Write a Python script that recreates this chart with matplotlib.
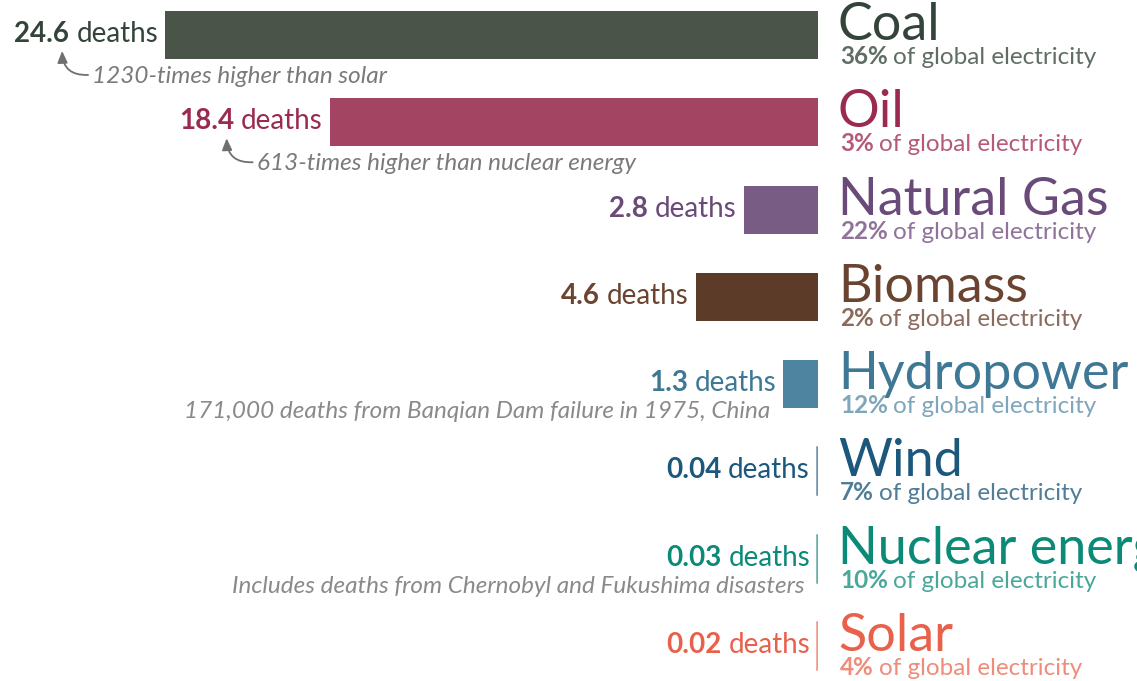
import matplotlib.pyplot as plt
from matplotlib.transforms import offset_copy

sources = ["Coal", "Oil", "Natural Gas", "Biomass", "Hydropower", "Wind", "Nuclear energy", "Solar"]
deaths = [24.6, 18.4, 2.8, 4.6, 1.3, 0.04, 0.03, 0.02]
share = [36, 3, 22, 2, 12, 7, 10, 4]

bar_colors = ["#4a5449", "#a34462", "#785c84", "#5c3b29", "#4e84a0", "#1c577c", "#0a8a78", "#e8614b"]
text_colors = ["#34443a", "#9a2a50", "#6a4a78", "#6a4431", "#3f7895", "#1c577c", "#0b8a78", "#e8614b"]
sub_colors = ["#5f6e63", "#b65a7a", "#8f7399", "#8b6b5e", "#7fa6bb", "#4f7d98", "#4aa89a", "#ef8c7a"]
line_colors = ["#4a5449", "#a34462", "#785c84", "#5c3b29", "#4e84a0", "#7b9db3", "#6fb8ad", "#f1a295"]

# arrow notes under the big bars
notes = {0: "1230-times higher than solar", 1: "613-times higher than nuclear energy"}
# footnotes under the death labels
footnotes = {4: "171,000 deaths from Banqian Dam failure in 1975, China",
             6: "Includes deaths from Chernobyl and Fukushima disasters"}

plt.rcParams['font.family'] = ['Lato', 'DejaVu Sans']

fig = plt.figure(figsize=(11.37, 6.81), dpi=100)
ax = fig.add_axes([0, 0, 1, 1])
ax.set_xlim(-30.82, 12.02)
ax.set_ylim(7.40, -0.40)
ax.axis('off')

rows = list(range(len(sources)))
ax.barh(rows, [-d for d in deaths], height=0.55, color=bar_colors)
# the tiny values are drawn as a hairline so they stay visible
for i in rows:
    if deaths[i] < 0.1:
        ax.plot([-deaths[i], -deaths[i]], [i - 0.275, i + 0.275], color=line_colors[i], lw=1.2)

grey = "#7a7a7a"
for i in rows:
    d = deaths[i]
    # "deaths" label, bold number to its left
    lab = ax.annotate("deaths", xy=(-d, i), xytext=(-7, 1), textcoords='offset pixels',
                      ha='right', va='center', fontsize=20, color=text_colors[i])
    ax.annotate(str(d), xy=(0, 0), xycoords=lab, xytext=(-7, 0), textcoords='offset pixels',
                ha='right', va='bottom', fontsize=20, fontweight='bold', color=text_colors[i])

    # source name and share of electricity
    ax.annotate(sources[i], xy=(0, i), xytext=(20, -5), textcoords='offset pixels',
                ha='left', va='baseline', fontsize=37.5, color=text_colors[i])
    pct = ax.annotate(f"{share[i]}%", xy=(0, i), xytext=(22, -29), textcoords='offset pixels',
                      ha='left', va='baseline', fontsize=17.5, fontweight='bold', color=sub_colors[i])
    ax.annotate("of global electricity", xy=(1, 0), xycoords=pct, xytext=(5, 0),
                textcoords='offset pixels', ha='left', va='bottom', fontsize=17.5, color=sub_colors[i])

    if i in notes:
        ax.annotate(notes[i], xy=(-d, i), xytext=(-73, -48), textcoords='offset pixels',
                    ha='left', va='baseline', fontsize=17.5, style='italic', color=grey)
        head = offset_copy(ax.transData, fig=fig, x=-103, y=-16, units='dots')
        ax.annotate("", xy=(-d, i), xycoords=head, xytext=(26, -24), textcoords='offset pixels',
                    arrowprops=dict(arrowstyle='-|>,head_length=0.7,head_width=0.3', color="#6f6f6f",
                                    lw=1.3, connectionstyle='arc3,rad=-0.5', shrinkA=0, shrinkB=0))

    if i in footnotes:
        ax.annotate(footnotes[i], xy=(-d, i), xytext=(-13, -34), textcoords='offset pixels',
                    ha='right', va='baseline', fontsize=17.5, style='italic', color="#8a8a8a")

fig.savefig("out.png", dpi=100)
